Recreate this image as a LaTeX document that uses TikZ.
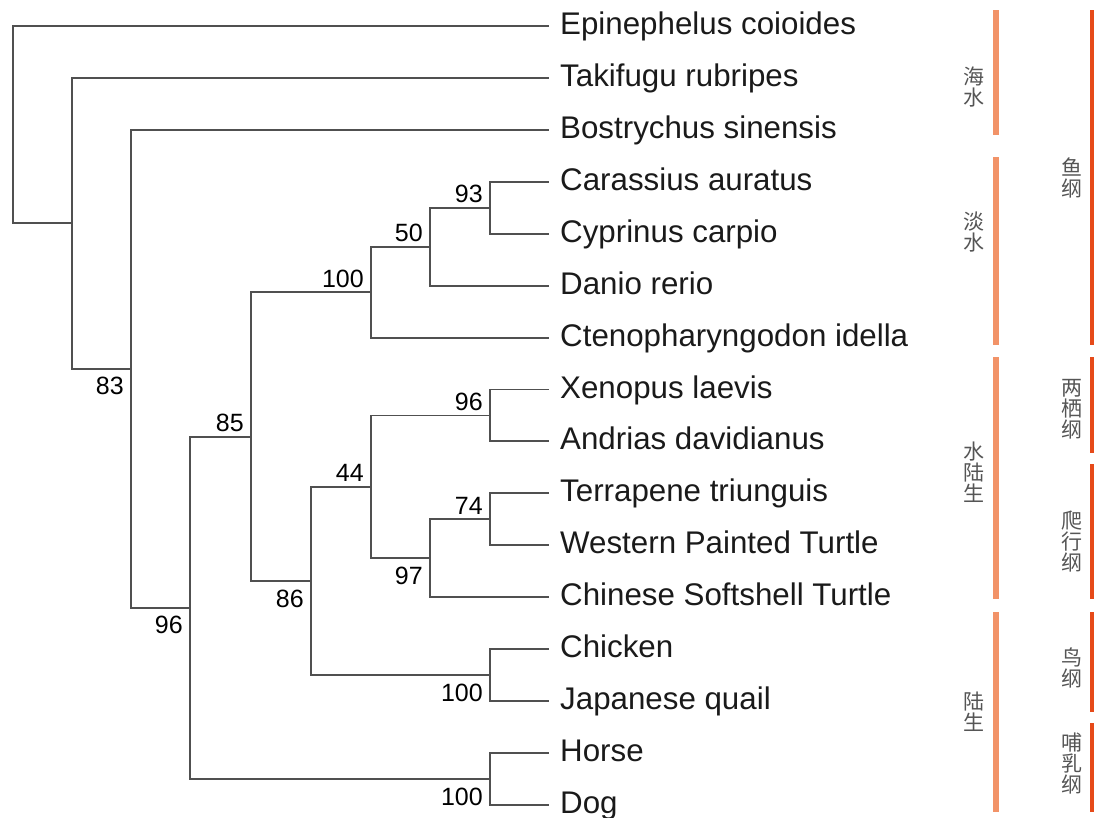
\documentclass[tikz,border=0pt]{standalone}
\usepackage{fontspec}
\setmainfont{Liberation Sans}
\newfontfamily\cjk{Noto Sans CJK SC}
\definecolor{treeline}{HTML}{505050}
\definecolor{leaftext}{HTML}{1A1A1A}
\definecolor{cjkgray}{HTML}{555555}
\definecolor{barlight}{HTML}{F29368}
\definecolor{bardark}{HTML}{E64A19}
\begin{document}
\begin{tikzpicture}[x=1pt,y=1pt,
  branch/.style={draw=treeline,line width=1.9pt,line cap=rect},
  leafname/.style={anchor=base west,inner sep=0pt,text=leaftext,font=\fontsize{31.3}{36}\selectfont},
  bsup/.style={anchor=base east,inner sep=0pt,text=black,font=\fontsize{25}{28}\selectfont},
  cjklab/.style={align=center,inner sep=0pt,text=cjkgray,font=\cjk\fontsize{21}{21}\selectfont},
  lightbar/.style={fill=barlight,draw=none},
  darkbar/.style={fill=bardark,draw=none}]
\useasboundingbox (0,0) rectangle (1094,-817);
% leaves
\foreach \i/\nm in {0/Epinephelus coioides,1/Takifugu rubripes,2/Bostrychus sinensis,3/Carassius auratus,4/Cyprinus carpio,5/Danio rerio,6/Ctenopharyngodon idella,7/Xenopus laevis,8/Andrias davidianus,9/Terrapene triunguis,10/Western Painted Turtle,11/Chinese Softshell Turtle,12/Chicken,13/Japanese quail,14/Horse,15/Dog}{
  \coordinate (c\i) at (548,{-(26+51.93*\i)});
  \node[leafname] (n\i) at (560,{-(26+51.93*\i)-8.5}) {\nm};
}
% internal nodes
\coordinate (H) at (490,-207.75);
\coordinate (G) at (430,-246.7);
\coordinate (E) at (371,-292.2);
\coordinate (J) at (490,-415.45);
\coordinate (L) at (490,-519.35);
\coordinate (K) at (430,-558.3);
\coordinate (I) at (371,-486.9);
\coordinate (Bd) at (490,-675.15);
\coordinate (F) at (311,-581.0);
\coordinate (D) at (251,-436.6);
\coordinate (M) at (490,-779.0);
\coordinate (C) at (190,-607.8);
\coordinate (B) at (131,-368.85);
\coordinate (A) at (72,-223.4);
\coordinate (R) at (13,-124.7);
% branches
\draw[branch] (R) |- (c0);
\draw[branch] (R) |- (A);
\draw[branch] (A) |- (c1);
\draw[branch] (A) |- (B);
\draw[branch] (B) |- (c2);
\draw[branch] (B) |- (C);
\draw[branch] (C) |- (D);
\draw[branch] (C) |- (M);
\draw[branch] (D) |- (E);
\draw[branch] (D) |- (F);
\draw[branch] (E) |- (G);
\draw[branch] (E) |- (c6);
\draw[branch] (G) |- (H);
\draw[branch] (G) |- (c5);
\draw[branch] (H) |- (c3);
\draw[branch] (H) |- (c4);
\draw[branch] (F) |- (I);
\draw[branch] (F) |- (Bd);
\draw[branch] (I) |- (J);
\draw[branch] (I) |- (K);
\draw[branch] (J) |- (c7);
\draw[branch] (J) |- (c8);
\draw[branch] (K) |- (L);
\draw[branch] (K) |- (c11);
\draw[branch] (L) |- (c9);
\draw[branch] (L) |- (c10);
\draw[branch] (Bd) |- (c12);
\draw[branch] (Bd) |- (c13);
\draw[branch] (M) |- (c14);
\draw[branch] (M) |- (c15);
% support values
\node[bsup] (sB) at ([xshift=-7pt,yshift=-26pt]B) {83};
\node[bsup] (sC) at ([xshift=-7pt,yshift=-26pt]C) {96};
\node[bsup] (sD) at ([xshift=-7pt,yshift=5pt]D) {85};
\node[bsup] (sF) at ([xshift=-7pt,yshift=-26pt]F) {86};
\node[bsup] (sE) at ([xshift=-7pt,yshift=5pt]E) {100};
\node[bsup] (sG) at ([xshift=-7pt,yshift=5pt]G) {50};
\node[bsup] (sH) at ([xshift=-7pt,yshift=5pt]H) {93};
\node[bsup] (sI) at ([xshift=-7pt,yshift=5pt]I) {44};
\node[bsup] (sJ) at ([xshift=-7pt,yshift=5pt]J) {96};
\node[bsup] (sK) at ([xshift=-7pt,yshift=-26pt]K) {97};
\node[bsup] (sL) at ([xshift=-7pt,yshift=5pt]L) {74};
\node[bsup] (sBd) at ([xshift=-7pt,yshift=-26pt]Bd) {100};
\node[bsup] (sM) at ([xshift=-7pt,yshift=-26pt]M) {100};
% habitat bars
\fill[lightbar] (993,-10) rectangle (999,-135);
\fill[lightbar] (993,-157) rectangle (999,-345);
\fill[lightbar] (993,-357) rectangle (999,-599);
\fill[lightbar] (993,-612) rectangle (999,-812);
\node[cjklab] (h1) at (974,-87) {海\\水};
\node[cjklab] (h2) at (974,-232) {淡\\水};
\node[cjklab] (h3) at (974,-472) {水\\陆\\生};
\node[cjklab] (h4) at (974,-712) {陆\\生};
% class bars
\fill[darkbar] (1090,-10) rectangle (1095,-345);
\fill[darkbar] (1090,-357) rectangle (1095,-453);
\fill[darkbar] (1090,-464) rectangle (1095,-599);
\fill[darkbar] (1090,-612) rectangle (1095,-712);
\fill[darkbar] (1090,-723) rectangle (1095,-812);
\node[cjklab] (k1) at (1072,-178) {鱼\\纲};
\node[cjklab] (k2) at (1072,-409) {两\\栖\\纲};
\node[cjklab] (k3) at (1072,-542) {爬\\行\\纲};
\node[cjklab] (k4) at (1072,-668) {鸟\\纲};
\node[cjklab] (k5) at (1072,-763) {哺\\乳\\纲};
\end{tikzpicture}
\end{document}
